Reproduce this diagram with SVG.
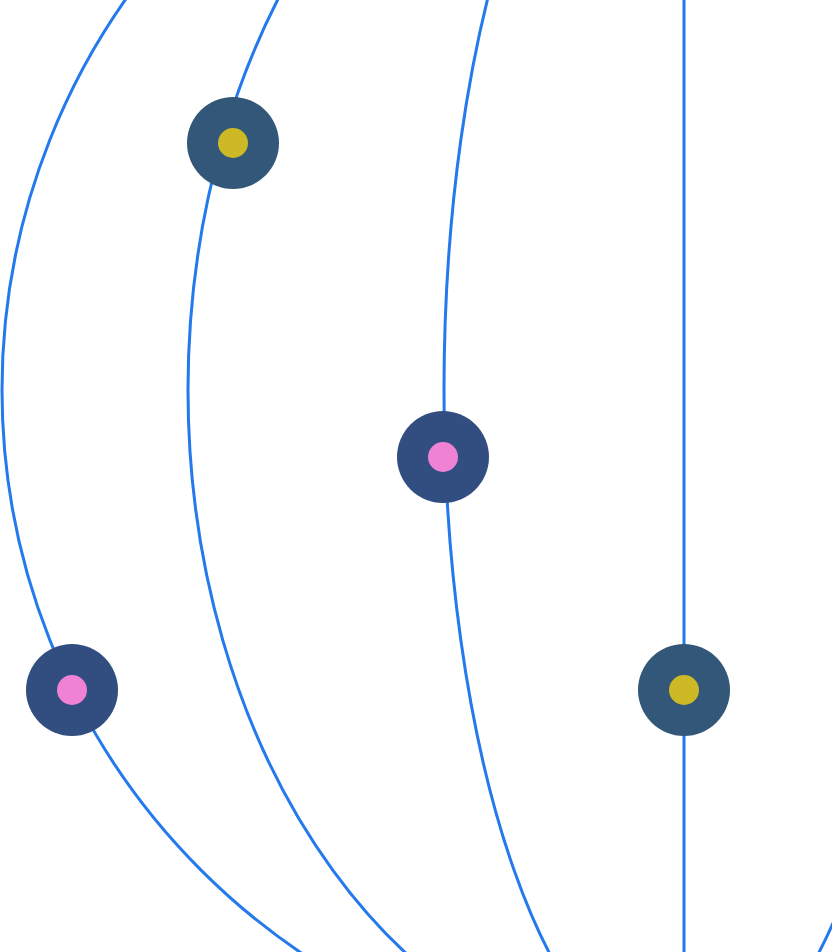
<svg xmlns="http://www.w3.org/2000/svg" width="832" height="952" viewBox="0 0 832 952">
<style>
.c{fill:none;stroke:#2479ed;stroke-width:3}
.o1{fill:#335778}.o2{fill:#324e80}
.y{fill:#cdb926}.p{fill:#f082d6}
</style>
<rect width="832" height="952" fill="#fff"/>
<g id="connectors">
<ellipse class="c" cx="684" cy="390" rx="682" ry="680"/>
<ellipse class="c" cx="684" cy="390" rx="496" ry="680"/>
<ellipse class="c" cx="684" cy="390" rx="240" ry="680"/>
<line class="c" x1="684" y1="0" x2="684" y2="952"/>
</g>
<g id="n1"><circle class="o1" cx="233" cy="143" r="46"/><circle class="y" cx="233" cy="143" r="15"/></g>
<g id="n2"><circle class="o2" cx="443" cy="457" r="46"/><circle class="p" cx="443" cy="457" r="15"/></g>
<g id="n3"><circle class="o2" cx="72" cy="690" r="46"/><circle class="p" cx="72" cy="690" r="15"/></g>
<g id="n4"><circle class="o1" cx="684" cy="690" r="46"/><circle class="y" cx="684" cy="690" r="15"/></g>
</svg>
